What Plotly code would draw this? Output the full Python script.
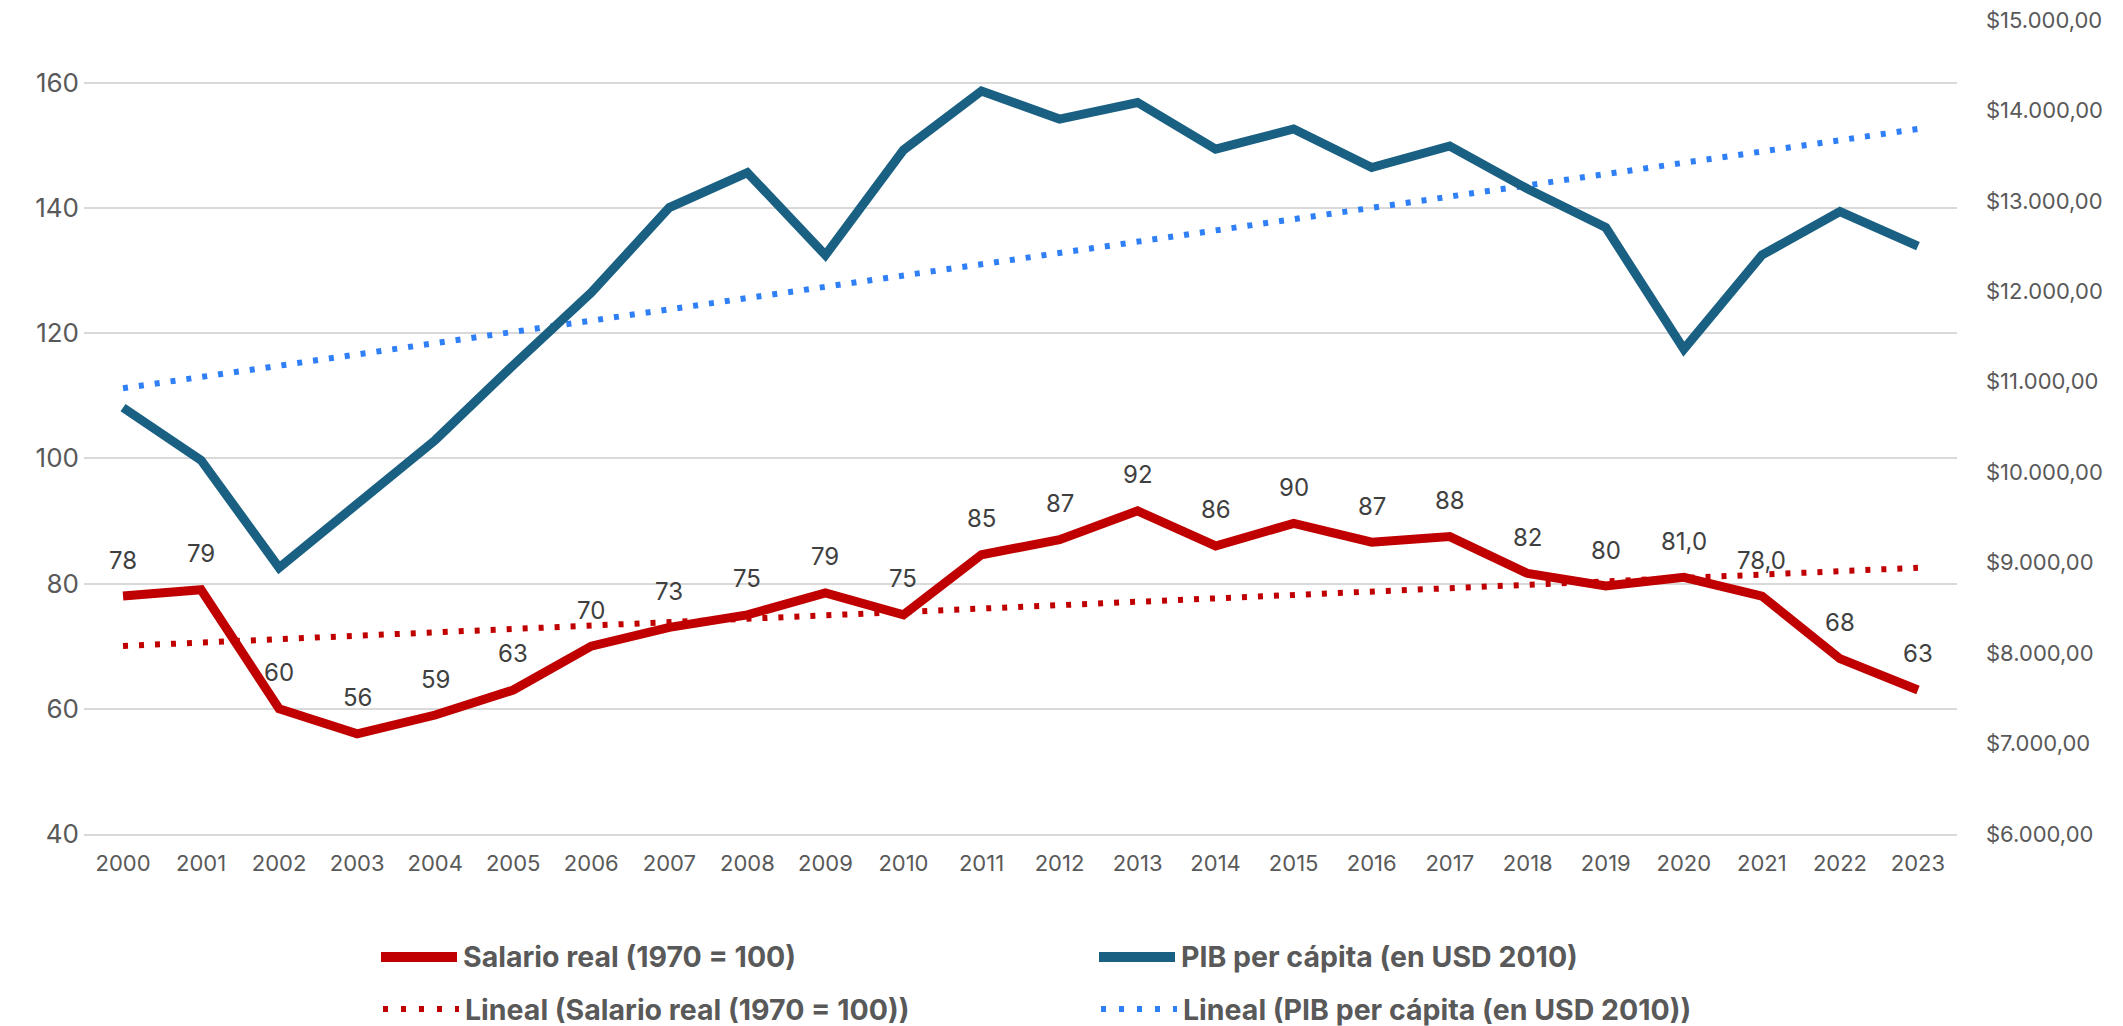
import numpy as np
import plotly.graph_objects as go

years = list(range(2000, 2024))
year_labels = [str(y) for y in years]
salario = [78, 79, 60, 56, 59, 63, 70, 73, 75, 78.5, 75, 84.6, 87, 91.6, 86, 89.6,
           86.6, 87.5, 81.6, 79.6, 81, 78, 68, 63]
salario_labels = ["78", "79", "60", "56", "59", "63", "70", "73", "75", "79", "75", "85",
                  "87", "92", "86", "90", "87", "88", "82", "80", "81,0", "78,0", "68", "63"]
pib = [10714, 10133, 8944, 9636, 10355, 11184, 11986, 12926, 13313, 12401, 13562, 14215,
       13905, 14088, 13573, 13795, 13369, 13607, 13131, 12705, 11361, 12401, 12882, 12500]
left_ticks = [40, 60, 80, 100, 120, 140, 160]
right_ticks = list(range(6000, 15001, 1000))
right_ticktext = ["$" + f"{v:,.2f}".replace(",", "X").replace(".", ",").replace("X", ".")
                  for v in right_ticks]

name_sal = "Salario real (1970 = 100)"
name_pib = "PIB per cápita (en USD 2010)"
name_tsal = "Lineal (Salario real (1970 = 100))"
name_tpib = "Lineal (PIB per cápita (en USD 2010))"

RED = "#C00000"
BLUE = "#1A6082"
LBLUE = "#2F7FF7"
TXT = "#595959"
FONT = "Inter"

# linear trend lines (least squares, as the spreadsheet trendline)
idx = np.arange(len(years))
ks, bs = np.polyfit(idx, salario, 1)
kp, bp = np.polyfit(idx, pib, 1)
trend_sal = ks * idx + bs
trend_pib = kp * idx + bp

OFF = 8  # page body margin
W, H = 2123 - OFF, 1026 - OFF
ML, MR, MT, MB = 84 - OFF, 166, 20 - OFF, 192

fig = go.Figure()
fig.add_trace(go.Scatter(x=years, y=trend_pib, mode="lines", yaxis="y2", name=name_tpib,
                         line=dict(color=LBLUE, width=6, dash="5px,11px"), showlegend=False))
fig.add_trace(go.Scatter(x=years, y=trend_sal, mode="lines", name=name_tsal,
                         line=dict(color=RED, width=6, dash="5px,11px"), showlegend=False))
fig.add_trace(go.Scatter(x=years, y=pib, mode="lines", yaxis="y2", name=name_pib,
                         line=dict(color=BLUE, width=9), showlegend=False))
fig.add_trace(go.Scatter(x=years, y=salario, mode="lines", name=name_sal,
                         line=dict(color=RED, width=9), showlegend=False))

annotations = []
for x, y, t in zip(years, salario, salario_labels):
    annotations.append(dict(x=x, y=y, xref="x", yref="y", text=t, showarrow=False,
                            yshift=36, font=dict(family=FONT, size=24, color="#404040")))

# custom legend (paper coordinates from screen pixel positions)
pw, ph = W - ML - MR, H - MT - MB
def px(xs):
    return (xs - OFF - ML) / pw
def py(ys):
    return (H - MB - (ys - OFF)) / ph

legend_items = [
    (381, 957, RED, None, name_sal),
    (1099, 957, BLUE, None, name_pib),
    (383, 1009, RED, "5px,13px", name_tsal),
    (1101, 1009, LBLUE, "5px,13px", name_tpib),
]
shapes = []
for x0, yc, col, dash, label in legend_items:
    shapes.append(dict(type="line", xref="paper", yref="paper", x0=px(x0), x1=px(x0 + 76),
                       y0=py(yc), y1=py(yc),
                       line=dict(color=col, width=10 if dash is None else 6, dash=dash or "solid")))
    annotations.append(dict(x=px(x0 + 80), y=py(yc), xref="paper", yref="paper",
                            text="<b>%s</b>" % label,
                            showarrow=False, xanchor="left", yanchor="middle",
                            font=dict(family=FONT, size=28.5, color=TXT)))

fig.update_layout(
    width=W, height=H,
    margin=dict(l=ML, r=MR, t=MT, b=MB, autoexpand=False),
    paper_bgcolor="white", plot_bgcolor="white",
    font=dict(family=FONT, color=TXT),
    xaxis=dict(range=[1999.5, 2023.5], tickvals=years, ticktext=year_labels, showgrid=False,
               ticks="", tickfont=dict(size=22, color=TXT), ticklabelstandoff=9,
               showline=True, linecolor="#D9D9D9", linewidth=2, zeroline=False),
    yaxis=dict(range=[40, 170], tickvals=left_ticks, showgrid=True,
               gridcolor="#D9D9D9", gridwidth=2, zeroline=False, ticks="",
               tickfont=dict(size=26, color=TXT), ticklabelstandoff=4),
    yaxis2=dict(range=[6000, 15000], overlaying="y", side="right", showgrid=False,
                tickvals=right_ticks, ticktext=right_ticktext, ticklabeloverflow="allow",
                zeroline=False, ticks="", tickfont=dict(size=22, color=TXT), ticklabelstandoff=28),
    annotations=annotations,
    shapes=shapes,
    showlegend=False,
)

fig.write_html("out.html")
